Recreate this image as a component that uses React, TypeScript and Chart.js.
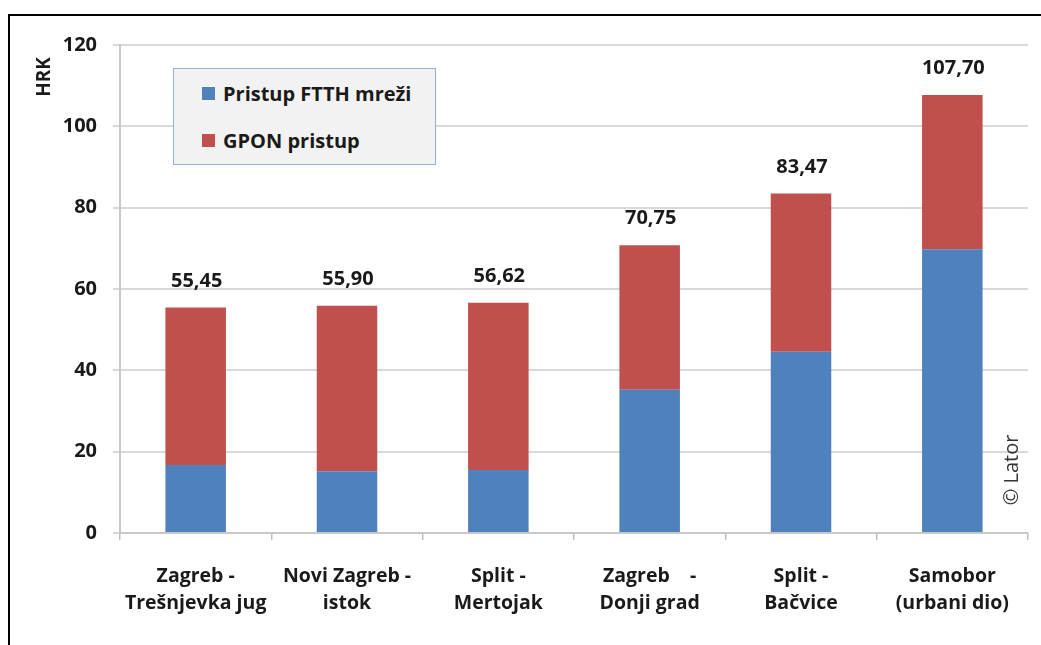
import React, { useEffect, useRef } from "react";
import { Chart, registerables } from "chart.js";

Chart.register(...registerables);

const categories: string[][] = [
  ["Zagreb -", "Trešnjevka jug"],
  ["Novi Zagreb -", "istok"],
  ["Split -", "Mertojak"],
  ["Zagreb    -", "Donji grad"],
  ["Split -", "Bačvice"],
  ["Samobor", "(urbani dio)"],
];
const ftthValues = [16.7, 15.2, 15.5, 35.2, 44.6, 69.8];
const gponValues = [38.75, 40.7, 41.12, 35.55, 38.87, 37.9];
const totalLabels = ["55,45", "55,90", "56,62", "70,75", "83,47", "107,70"];
const totalValues = [55.45, 55.9, 56.62, 70.75, 83.47, 107.7];
const seriesNames = ["Pristup FTTH mreži", "GPON pristup"];
const seriesColors = ["#4f81bd", "#c0504d"];
const yTicks = [0, 20, 40, 60, 80, 100, 120];

const FONT = "'Open Sans', sans-serif";

const extrasPlugin = {
  id: "extras",
  afterDatasetsDraw(chart: any) {
    const ctx = chart.ctx;
    const x = chart.scales.x;
    const y = chart.scales.y;
    ctx.save();
    ctx.fillStyle = "#1a1a1a";
    ctx.font = `bold 20px ${FONT}`;
    ctx.textAlign = "center";
    ctx.textBaseline = "alphabetic";
    totalValues.forEach((v, i) => {
      const px = x.getPixelForValue(i);
      const py = y.getPixelForValue(v);
      ctx.fillText(totalLabels[i], px + 1, py - 21);
    });
    // axis title
    ctx.save();
    ctx.translate(45, 77);
    ctx.rotate(-Math.PI / 2);
    ctx.textBaseline = "middle";
    ctx.font = `bold 19px ${FONT}`;
    ctx.fillText("HRK", 0, 0);
    ctx.restore();
    // watermark
    ctx.save();
    ctx.translate(1012, 470);
    ctx.rotate(-Math.PI / 2);
    ctx.textBaseline = "middle";
    ctx.fillStyle = "#333333";
    ctx.font = `20px ${FONT}`;
    ctx.fillText("© Lator", 0, 0);
    ctx.restore();
    ctx.restore();
  },
};

export default function App() {
  const ref = useRef<HTMLCanvasElement>(null);
  useEffect(() => {
    if (!ref.current) return;
    const chart = new Chart(ref.current, {
      type: "bar",
      data: {
        labels: categories,
        datasets: [
          { label: seriesNames[0], data: ftthValues, backgroundColor: seriesColors[0] },
          { label: seriesNames[1], data: gponValues, backgroundColor: seriesColors[1] },
        ],
      },
      options: {
        responsive: false,
        animation: false,
        devicePixelRatio: 1,
        layout: { padding: { left: 0, top: 45, right: 13, bottom: 0 } },
        datasets: { bar: { barPercentage: 0.4, categoryPercentage: 1 } },
        plugins: { legend: { display: false }, tooltip: { enabled: false } },
        scales: {
          x: {
            stacked: true,
            afterFit: (s: any) => { s.height = 112; },
            grid: { drawOnChartArea: false, tickLength: 7, color: "#c0c0c0", lineWidth: 1.5 },
            border: { color: "#c8c8c8", width: 2 },
            ticks: {
              color: "#1a1a1a",
              font: { family: FONT, size: 19.5, weight: "bold", lineHeight: 1.38 },
              padding: 23,
              maxRotation: 0,
              autoSkip: false,
            },
          },
          y: {
            stacked: true,
            min: 0,
            max: 120,
            afterFit: (s: any) => { s.width = 120; },
            afterBuildTicks: (s: any) => { s.ticks = yTicks.map((v) => ({ value: v })); },
            grid: { color: "#d9d9d9", lineWidth: 2, tickLength: 7 },
            border: { color: "#c8c8c8", width: 2 },
            ticks: {
              color: "#1a1a1a",
              font: { family: FONT, size: 20, weight: "bold" },
              padding: 16,
            },
          },
        },
      },
      plugins: [extrasPlugin],
    });
    return () => chart.destroy();
  }, []);

  return (
    <div style={{ position: "absolute", left: 0, top: 0, width: 1041, height: 645, background: "#fff", overflow: "hidden" }}>
      <canvas ref={ref} width={1041} height={645} style={{ position: "absolute", left: 0, top: 0 }} />
      <div
        style={{
          position: "absolute",
          left: 8,
          top: 14,
          right: -10,
          bottom: -10,
          borderLeft: "2px solid #000",
          borderTop: "2px solid #000",
          pointerEvents: "none",
        }}
      />
      <div
        style={{
          position: "absolute",
          left: 173,
          top: 68,
          width: 261,
          height: 95,
          background: "#f2f2f2",
          border: "1.5px solid #95b3d7",
          fontFamily: FONT,
          fontWeight: "bold",
          fontSize: 20,
          color: "#1a1a1a",
        }}
      >
        {seriesNames.map((name, i) => (
          <div
            key={name}
            style={{ position: "absolute", left: 28, top: i === 0 ? 11 : 58, height: 26, display: "flex", alignItems: "center" }}
          >
            <span style={{ display: "inline-block", width: 13, height: 13, background: seriesColors[i], marginRight: 8 }} />
            <span>{name}</span>
          </div>
        ))}
      </div>
    </div>
  );
}
